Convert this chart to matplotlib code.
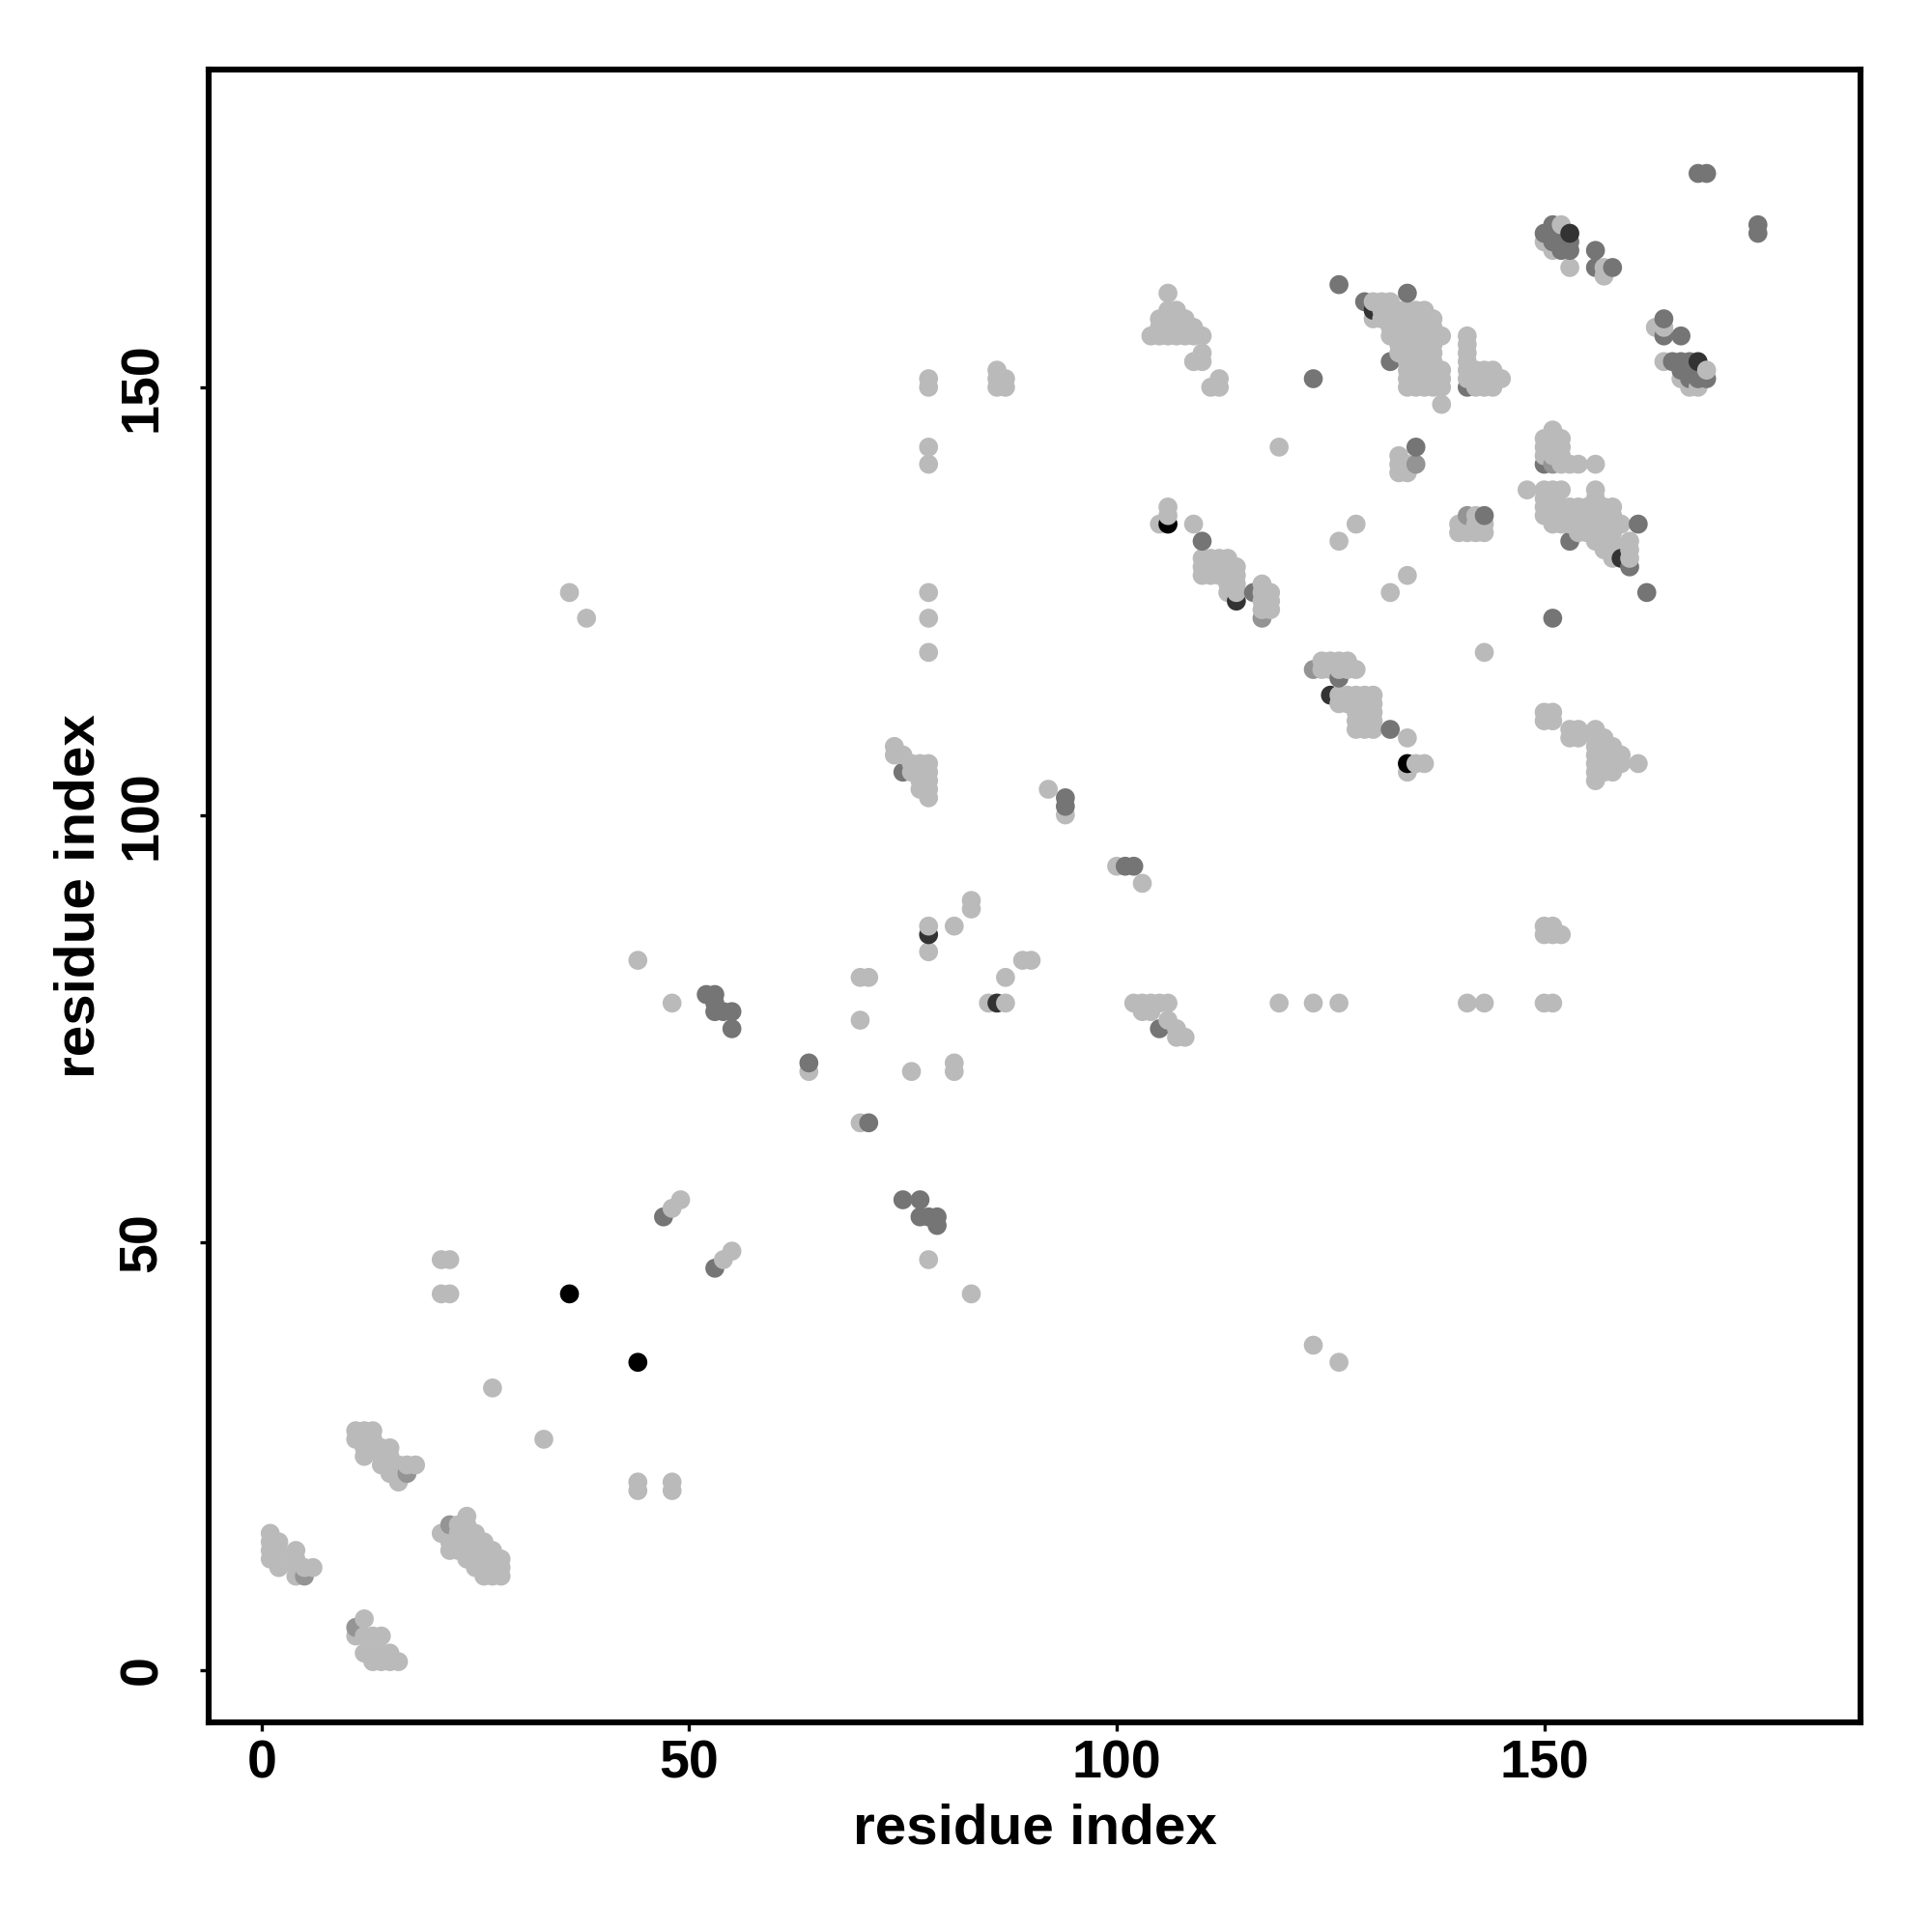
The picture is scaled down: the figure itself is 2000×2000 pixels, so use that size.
import numpy as np
import matplotlib
matplotlib.use("Agg")
import matplotlib.pyplot as plt

# contact map: (i, j) residue pairs, grouped by grey shade
light_pts = [
    # 0-30 block
    (12, 6), (11, 4), (12, 4), (13, 4), (14, 4), (12, 2), (13, 2), (14, 2), (15, 2),
    (13, 1), (14, 1), (15, 1), (16, 1),
    (1, 16), (1, 15), (1, 14), (1, 13), (2, 15), (2, 14), (2, 13), (2, 12),
    (4, 14), (4, 13), (4, 12), (4, 11), (5, 12), (6, 12),
    (21, 16), (22, 16), (22, 15), (22, 14), (23, 17), (23, 16), (23, 15), (23, 14),
    (24, 18), (24, 17), (24, 16), (24, 15), (24, 14), (24, 13),
    (25, 16), (25, 15), (25, 14), (25, 13), (25, 12), (26, 15), (26, 14), (26, 13),
    (26, 12), (26, 11), (27, 14), (27, 13), (27, 12), (27, 11), (28, 13), (28, 12), (28, 11),
    (11, 28), (11, 27), (12, 28), (12, 27), (12, 26), (12, 25), (13, 28), (13, 27), (13, 26),
    (14, 26), (14, 25), (14, 24), (15, 26), (15, 25), (15, 24), (15, 23),
    (16, 24), (16, 23), (16, 22), (17, 24), (18, 24),
    # 20-95
    (21, 48), (22, 48), (21, 44), (22, 44), (27, 33), (33, 27), (44, 22), (44, 21),
    (48, 22), (48, 21), (48, 54), (49, 55), (54, 48), (55, 49), (44, 83), (48, 78),
    (64, 70), (70, 81), (71, 81), (70, 76), (70, 64), (78, 48), (83, 44), (76, 70),
    (81, 71), (81, 70), (78, 87), (78, 84), (81, 87), (83, 90), (83, 89), (89, 83),
    (90, 83), (87, 81), (85, 78), (87, 78),
    (36, 126), (38, 123), (78, 151), (78, 150), (78, 143), (78, 141), (78, 126),
    (78, 123), (78, 119), (86, 152), (86, 151), (86, 150), (87, 151), (87, 150),
    (74, 108), (74, 107), (75, 107), (76, 106), (77, 106), (78, 106), (76, 105),
    (77, 105), (78, 105), (77, 104), (78, 104), (77, 103), (78, 103), (78, 102),
    (92, 103), (94, 100), (100, 94), (103, 92),
    (102, 78), (103, 78), (104, 78), (105, 78), (106, 78), (103, 77), (104, 77),
    (106, 76), (107, 75), (107, 74), (108, 74), (119, 78), (123, 78), (126, 78),
    (141, 78), (143, 78), (150, 78), (151, 78), (150, 87), (151, 87), (150, 86),
    (151, 86), (152, 86), (123, 38), (126, 36),
    # 100-140
    (106, 161), (106, 159), (107, 159), (105, 158), (106, 158), (107, 158), (108, 158),
    (105, 157), (106, 157), (107, 157), (108, 157), (109, 157), (104, 156), (105, 156),
    (106, 156), (107, 156), (108, 156), (109, 156), (110, 156), (110, 154), (109, 153),
    (110, 153), (112, 151), (111, 150), (112, 150),
    (119, 143), (106, 136), (106, 135), (105, 134), (109, 134), (128, 134), (126, 132),
    (110, 130), (111, 130), (112, 130), (113, 130), (110, 129), (111, 129), (112, 129),
    (113, 129), (114, 129), (110, 128), (111, 128), (112, 128), (113, 128), (114, 128),
    (113, 127), (114, 127), (113, 126), (114, 126), (117, 127), (117, 126), (118, 126),
    (117, 125), (118, 125), (117, 124), (118, 124),
    (124, 118), (125, 118), (126, 118), (127, 118), (124, 117), (125, 117), (126, 117),
    (127, 117), (128, 117),
    (126, 114), (127, 114), (128, 114), (129, 114), (130, 114), (126, 113), (127, 113),
    (128, 113), (129, 113), (130, 113), (128, 112), (129, 112), (130, 112), (128, 111),
    (129, 111), (130, 111), (128, 110), (129, 110), (130, 110),
    (134, 109), (135, 106), (136, 106), (134, 105), (134, 128), (132, 126),
    (133, 142), (133, 141), (133, 140), (134, 141), (134, 140),
    (140, 134), (141, 134), (142, 134), (143, 134), (140, 133), (141, 133), (142, 133),
    (143, 133), (142, 135), (143, 119),
    # upper right block
    (130, 160), (131, 160), (132, 160), (131, 159), (132, 159), (133, 159), (134, 159),
    (135, 159), (136, 159), (130, 158), (131, 158), (132, 158), (133, 158), (134, 158),
    (135, 158), (136, 158), (137, 158), (132, 157), (133, 157), (134, 157), (135, 157),
    (136, 157), (137, 157), (132, 156), (133, 156), (134, 156), (135, 156), (136, 156),
    (137, 156), (138, 156), (133, 155), (134, 155), (135, 155), (136, 155), (137, 155),
    (133, 154), (134, 154), (135, 154), (136, 154), (137, 154), (134, 153), (135, 153),
    (136, 153), (137, 153), (134, 152), (135, 152), (136, 152), (137, 152), (138, 152),
    (134, 151), (135, 151), (136, 151), (137, 151), (138, 151), (134, 150), (135, 150),
    (136, 150), (137, 150), (138, 150), (138, 148),
    (141, 156), (141, 155), (141, 154), (141, 153), (141, 152), (141, 151), (142, 152),
    (143, 152), (144, 152), (142, 151), (143, 151), (144, 151), (145, 151), (142, 150),
    (143, 150), (144, 150),
    (152, 169), (150, 167), (151, 166), (153, 164), (157, 163), (157, 164),
    (163, 157), (164, 157), (164, 153), (169, 152), (167, 150), (166, 151), (168, 150),
    (150, 144), (150, 143), (150, 142), (151, 145), (151, 144), (151, 143), (151, 142),
    (152, 144), (152, 143), (152, 142), (152, 141), (153, 141), (154, 141), (156, 141),
    (148, 138), (150, 138), (151, 138), (152, 138), (150, 137), (151, 137), (150, 136),
    (151, 136), (150, 135), (151, 135), (151, 134), (152, 136), (153, 136), (154, 136),
    (155, 136), (152, 135), (153, 135), (154, 135), (155, 135), (152, 134), (153, 134),
    (154, 134), (155, 134), (154, 133), (155, 133), (156, 138), (156, 137), (156, 136),
    (156, 135), (156, 134), (156, 133), (156, 132), (157, 136), (157, 135), (157, 134),
    (157, 133), (157, 132), (157, 131), (158, 136), (158, 135), (158, 134), (158, 133),
    (158, 132), (158, 131), (158, 130), (159, 134), (160, 132), (160, 131), (160, 130),
    (150, 112), (151, 112), (150, 111), (151, 111), (153, 110), (154, 110), (153, 109),
    (154, 109), (156, 110), (156, 109), (156, 108), (156, 107), (156, 106), (156, 105),
    (156, 104), (157, 109), (157, 108), (157, 107), (157, 106), (157, 105), (158, 108),
    (158, 107), (158, 106), (158, 105), (159, 107), (159, 106), (161, 106),
]

pale_pts = [(11, 5), (5, 11), (22, 17), (17, 23), (123, 117), (117, 123),
            (135, 141), (141, 135), (151, 141)]

mid_pts = [
    (47, 53), (53, 47), (52, 79), (53, 79), (53, 78), (53, 77), (54, 77), (55, 77),
    (55, 75), (64, 71), (71, 64), (75, 55), (77, 55), (77, 53), (78, 53), (79, 53),
    (79, 52), (94, 102), (94, 101), (101, 94), (102, 94), (75, 105), (105, 75),
    (126, 116), (132, 110), (110, 132), (116, 126), (123, 151), (126, 162), (129, 160),
    (134, 161), (132, 153), (141, 150), (150, 141), (135, 143), (143, 135), (153, 132),
    (151, 123), (162, 126), (161, 134), (160, 129),
    (150, 168), (151, 169), (151, 167), (152, 167), (152, 166), (153, 166), (153, 167),
    (156, 166), (156, 164), (158, 164), (168, 175), (169, 175), (175, 169), (175, 168),
    (164, 158), (164, 156), (166, 156), (165, 153), (166, 153), (167, 153), (166, 152),
    (167, 152), (167, 151), (168, 152), (168, 151), (169, 151),
]

dark_pts = [(78, 86), (86, 78), (153, 168), (168, 153), (130, 159), (159, 130),
            (114, 125), (125, 114)]

black_pts = [(36, 44), (44, 36), (134, 106), (106, 134)]

shades = {"light": 0.73, "pale": 0.58, "mid": 0.46, "dark": 0.2, "black": 0.0}


def collect():
    groups = [(light_pts, "light"), (pale_pts, "pale"), (mid_pts, "mid"),
              (dark_pts, "dark"), (black_pts, "black")]
    xs, ys, gs = [], [], []
    for pts, name in groups:
        for x, y in pts:
            xs.append(x)
            ys.append(y)
            gs.append(shades[name])
    xs, ys, gs = np.array(xs), np.array(ys), np.array(gs)
    # draw in residue order, later pairs on top
    order = np.lexsort((ys, xs))
    return xs[order], ys[order], gs[order]


def main():
    plt.rcParams["font.family"] = ["Liberation Sans", "DejaVu Sans"]
    plt.rcParams["font.weight"] = "bold"
    fig = plt.figure(figsize=(10, 10), dpi=200)
    ax = fig.add_axes([0.108, 0.1085, 0.855, 0.8553])

    xs, ys, gs = collect()
    colors = [(g, g, g) for g in gs]
    ax.scatter(xs, ys, s=50, c=colors, linewidths=0, zorder=3)

    ax.set_xlim(-6.2, 187)
    ax.set_ylim(-6.1, 187.1)
    ticks = [0, 50, 100, 150]
    ax.set_xticks(ticks)
    ax.set_yticks(ticks)
    ax.set_xticklabels([str(t) for t in ticks], fontsize=20, fontweight="bold")
    ax.set_yticklabels([str(t) for t in ticks], fontsize=20, fontweight="bold",
                       rotation=90, va="center")
    ax.tick_params(axis="x", length=3.2, width=1.2, pad=3)
    ax.tick_params(axis="y", length=3.2, width=1.2, pad=12)
    for sp in ax.spines.values():
        sp.set_linewidth(2.2)

    ax.set_xlabel("residue index", fontsize=21, fontweight="bold")
    ax.set_ylabel("residue index", fontsize=21, fontweight="bold")
    ax.xaxis.set_label_coords(0.5, -0.049)
    ax.yaxis.set_label_coords(-0.062, 0.5)

    fig.savefig("out.png", dpi=200, facecolor="white")


if __name__ == "__main__":
    main()
